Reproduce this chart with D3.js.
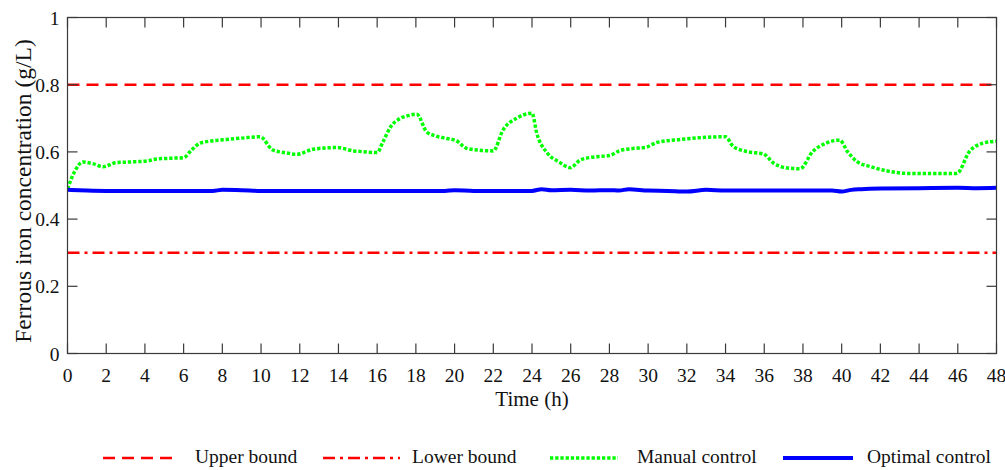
<!DOCTYPE html>
<html>
<head>
<meta charset="utf-8">
<script src="https://cdn.jsdelivr.net/npm/d3@7"></script>
<style>
  body { margin: 0; background: #fff; }
  svg text { font-family: "Liberation Serif", "DejaVu Serif", serif; fill: #111; }
</style>
</head>
<body>
<div id="chart"></div>
<script>
const width = 1005
const height = 470
const PADDING = {top: 17.5, right: 8.5, bottom: 116.5, left: 67.5}

const xTicks = d3.range(0, 49, 2)
const yTicks = [0, 0.2, 0.4, 0.6, 0.8, 1]
const yTickLabels = ['0', '0.2', '0.4', '0.6', '0.8', '1']

const upperBound = 0.8
const lowerBound = 0.3

const manualTime = [0, 0.4, 0.8, 1.3, 1.85, 2.5, 3.2, 4.1, 4.6, 5.3, 6.0, 6.4, 6.85, 7.5, 8.2, 9.0, 9.95,
  10.6, 11.2, 11.85, 12.7, 13.9, 14.8, 15.4, 16.0, 16.3, 16.7, 17.2, 17.6, 18.05, 18.55, 19.0, 19.6,
  20.1, 20.6, 21.3, 22.0, 22.5, 23.2, 24.0, 24.25, 24.8, 25.4, 25.97, 26.5, 27.2, 28.0, 28.55, 29.2,
  29.9, 30.45, 31.65, 32.6, 34.0, 34.4, 35.2, 35.95, 36.5, 37.2, 37.85, 38.5, 39.2, 39.9, 40.3, 40.8,
  41.5, 42.3, 43.4, 45.95, 46.6, 47.3, 48]
const manualValue = [0.49, 0.545, 0.570, 0.565, 0.556, 0.568, 0.570, 0.573, 0.579, 0.581, 0.583, 0.605,
  0.626, 0.633, 0.637, 0.641, 0.645, 0.606, 0.598, 0.593, 0.608, 0.613, 0.603, 0.600, 0.598, 0.630,
  0.675, 0.700, 0.708, 0.712, 0.660, 0.648, 0.640, 0.633, 0.611, 0.605, 0.603, 0.665, 0.700, 0.715,
  0.655, 0.596, 0.570, 0.553, 0.576, 0.585, 0.589, 0.604, 0.610, 0.614, 0.628, 0.637, 0.642, 0.645,
  0.616, 0.600, 0.594, 0.566, 0.552, 0.550, 0.601, 0.626, 0.635, 0.601, 0.571, 0.556, 0.544, 0.536,
  0.536, 0.601, 0.626, 0.632]

const optimalTime = [0, 1, 2, 4, 6, 7.5, 8, 9, 10, 12, 14, 16, 18, 19.5, 20, 21, 23, 24, 24.5, 25, 26,
  27, 28, 28.5, 29, 30, 31, 32, 33, 34, 36, 38, 39.5, 40, 40.5, 41, 42, 44, 46, 47, 48]
const optimalValue = [0.487, 0.485, 0.484, 0.484, 0.484, 0.484, 0.487, 0.486, 0.484, 0.484, 0.484,
  0.484, 0.484, 0.484, 0.486, 0.484, 0.484, 0.484, 0.489, 0.486, 0.487, 0.485, 0.486, 0.485, 0.489,
  0.485, 0.484, 0.482, 0.487, 0.485, 0.485, 0.485, 0.485, 0.482, 0.487, 0.489, 0.491, 0.492, 0.493,
  0.492, 0.493]

const legendNames = ['Upper bound', 'Lower bound', 'Manual control', 'Optimal control']

const innerW = width - PADDING.left - PADDING.right
const innerH = height - PADDING.top - PADDING.bottom

const xScale = d3.scaleLinear().domain([0, 48]).range([PADDING.left, PADDING.left + innerW])
const yScale = d3.scaleLinear().domain([0, 1]).range([PADDING.top + innerH, PADDING.top])

const svg = d3.select('#chart').append('svg')
  .attr('width', width).attr('height', height)

const AXIS_COLOR = '#3a3a3a'
const TICK_LEN = 10

const styles = {
  upper: {stroke: '#ff0000', width: 2.5, dash: '12,7'},
  lower: {stroke: '#ff0000', width: 2.5, dash: '12,5,3,5'},
  manual: {stroke: '#00ff00', width: 3.5, dash: '3.3,1.9'},
  optimal: {stroke: '#0000ff', width: 4, dash: null}
}

// data lines, clipped to plot box
svg.append('clipPath').attr('id', 'clip').append('rect')
  .attr('x', PADDING.left).attr('y', PADDING.top).attr('width', innerW).attr('height', innerH)
const plot = svg.append('g').attr('clip-path', 'url(#clip)')

function hline (v, st) {
  plot.append('line')
    .attr('x1', xScale(0)).attr('x2', xScale(48))
    .attr('y1', yScale(v)).attr('y2', yScale(v))
    .attr('stroke', st.stroke).attr('stroke-width', st.width)
    .attr('stroke-dasharray', st.dash)
}
hline(upperBound, styles.upper)
hline(lowerBound, styles.lower)

const line = d3.line().x(d => xScale(d[0])).y(d => yScale(d[1])).curve(d3.curveMonotoneX)

plot.append('path')
  .datum(manualTime.map((t, i) => [t, manualValue[i]]))
  .attr('d', line).attr('fill', 'none')
  .attr('stroke', styles.manual.stroke).attr('stroke-width', styles.manual.width)
  .attr('stroke-dasharray', styles.manual.dash)

plot.append('path')
  .datum(optimalTime.map((t, i) => [t, optimalValue[i]]))
  .attr('d', line).attr('fill', 'none')
  .attr('stroke', styles.optimal.stroke).attr('stroke-width', styles.optimal.width)

// axes (box with inward ticks on all sides)
const axisG = svg.append('g').attr('stroke', AXIS_COLOR).attr('stroke-width', 1.2)
axisG.append('rect')
  .attr('x', PADDING.left).attr('y', PADDING.top).attr('width', innerW).attr('height', innerH)
  .attr('fill', 'none')

xTicks.forEach(t => {
  const x = xScale(t)
  axisG.append('line').attr('x1', x).attr('x2', x)
    .attr('y1', yScale(0)).attr('y2', yScale(0) - TICK_LEN)
  axisG.append('line').attr('x1', x).attr('x2', x)
    .attr('y1', yScale(1)).attr('y2', yScale(1) + TICK_LEN)
})
yTicks.forEach(v => {
  const y = yScale(v)
  axisG.append('line').attr('x1', xScale(0)).attr('x2', xScale(0) + TICK_LEN).attr('y1', y).attr('y2', y)
  axisG.append('line').attr('x1', xScale(48)).attr('x2', xScale(48) - TICK_LEN).attr('y1', y).attr('y2', y)
})

svg.append('g').selectAll('text').data(xTicks).enter().append('text')
  .attr('x', d => xScale(d)).attr('y', yScale(0) + 28)
  .attr('text-anchor', 'middle').attr('font-size', 19.5)
  .text(d => d)

svg.append('g').selectAll('text').data(yTicks).enter().append('text')
  .attr('x', PADDING.left - 8).attr('y', d => yScale(d) + 7)
  .attr('text-anchor', 'end').attr('font-size', 19.5)
  .text((d, i) => yTickLabels[i])

svg.append('text')
  .attr('x', xScale(24)).attr('y', 406)
  .attr('text-anchor', 'middle').attr('font-size', 21)
  .text('Time (h)')

svg.append('text')
  .attr('transform', 'translate(31, 191) rotate(-90)')
  .attr('text-anchor', 'middle').attr('font-size', 23.5)
  .text('Ferrous iron concentration (g/L)')

// legend
const legendItems = [
  {name: legendNames[0], st: styles.upper, x1: 103, x2: 178, tx: 195},
  {name: legendNames[1], st: styles.lower, x1: 323, x2: 400, tx: 412},
  {name: legendNames[2], st: styles.manual, x1: 550, x2: 618, tx: 637},
  {name: legendNames[3], st: styles.optimal, x1: 783, x2: 853, tx: 867}
]
const legend = svg.append('g')
legend.selectAll('line').data(legendItems).enter().append('line')
  .attr('x1', d => d.x1).attr('x2', d => d.x2).attr('y1', 458).attr('y2', 458)
  .attr('stroke', d => d.st.stroke).attr('stroke-width', d => d.st.width)
  .attr('stroke-dasharray', d => d.st.dash)
legend.selectAll('text').data(legendItems).enter().append('text')
  .attr('x', d => d.tx).attr('y', 463).attr('font-size', 19.5)
  .text(d => d.name)
</script>
</body>
</html>
